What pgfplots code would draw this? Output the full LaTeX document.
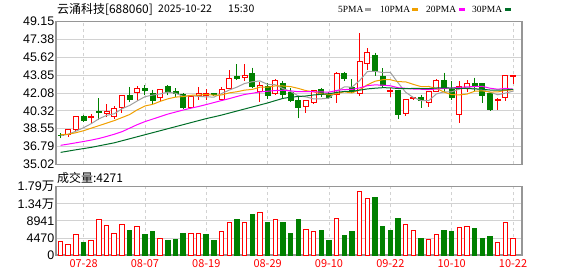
\documentclass[border=0pt]{standalone}
\usepackage{pgfplots}
\pgfplotsset{compat=1.18}
\usepackage{pgfplotstable}
\usepgfplotslibrary{statistics}
\usepackage{fontspec}
\setmainfont{Liberation Sans}
\newfontfamily\cjk{Noto Sans CJK SC}
\newfontfamily\serifl{Liberation Serif}
\definecolor{kred}{RGB}{255,0,0}
\definecolor{kgreen}{RGB}{0,128,0}
\definecolor{ma5c}{RGB}{160,160,160}
\definecolor{ma10c}{RGB}{240,160,0}
\definecolor{ma20c}{RGB}{255,0,255}
\definecolor{ma30c}{RGB}{0,110,40}
\definecolor{gridc}{RGB}{210,210,210}
\definecolor{framec}{RGB}{150,150,150}

\pgfplotstableread{
i ma5 ma10 ma20 ma30
1 37.85 37.95 36.90 36.20
2 38.00 38.00 37.02 36.33
3 38.30 38.15 37.15 36.46
4 38.65 38.35 37.28 36.58
5 39.05 38.60 37.42 36.70
6 39.53 38.85 37.58 36.85
7 39.87 39.10 37.78 37.00
8 40.03 39.35 38.00 37.15
9 40.52 39.65 38.25 37.35
10 40.85 39.95 38.60 37.55
11 41.30 40.42 38.95 37.75
12 41.72 40.80 39.25 37.95
13 41.88 40.96 39.50 38.15
14 42.00 41.26 39.75 38.35
15 42.17 41.51 40.00 38.55
16 42.06 41.68 40.20 38.75
17 41.74 41.73 40.40 38.95
18 41.83 41.86 40.58 39.15
19 41.75 41.88 40.75 39.35
20 41.70 41.94 40.94 39.55
21 41.68 41.87 41.14 39.72
22 42.03 41.89 41.34 39.90
23 42.38 42.10 41.53 40.10
24 42.67 42.21 41.74 40.30
25 43.03 42.37 41.94 40.50
26 43.20 42.44 42.06 40.70
27 43.28 42.66 42.19 40.90
28 42.94 42.66 42.26 41.10
29 42.90 42.79 42.33 41.33
30 42.52 42.78 42.36 41.55
31 42.24 42.72 42.30 41.67
32 41.79 42.54 42.21 41.74
33 41.70 42.32 42.21 41.79
34 41.50 42.20 42.21 41.89
35 41.51 42.01 42.19 41.96
36 41.57 41.91 42.17 42.01
37 42.25 42.02 42.34 42.14
38 42.69 42.20 42.43 42.24
39 42.67 42.09 42.44 42.25
40 43.32 42.41 42.59 42.37
41 44.21 42.89 42.81 42.49
42 44.24 43.25 42.89 42.56
43 44.11 43.40 42.86 42.61
44 44.13 43.40 42.80 42.60
45 43.10 43.21 42.61 42.53
46 42.16 43.19 42.55 42.51
47 41.64 42.94 42.48 42.54
48 41.34 42.72 42.46 42.53
49 41.32 42.73 42.41 42.53
50 41.99 42.54 42.48 42.58
51 42.20 42.18 42.54 42.60
52 42.20 41.92 42.58 42.57
53 42.47 41.90 42.65 42.54
54 42.63 41.98 42.69 42.53
55 42.53 42.26 42.73 42.49
56 42.40 42.30 42.74 42.46
57 42.16 42.18 42.56 42.38
58 41.91 42.19 42.46 42.37
59 42.07 42.35 42.54 42.39
60 42.27 42.40 42.47 42.45
}\matable

\pgfplotstableread{
i vol
1 3504
2 2716
3 5344
5 3767
6 9286
7 7709
8 5606
9 7972
11 7446
14 4292
18 5606
19 5606
22 6132
23 8497
25 8497
27 11125
29 9286
33 6658
34 6132
37 9548
40 16644
41 14804
46 7972
47 6395
49 4030
50 5344
53 7183
54 7446
58 3241
59 8497
60 4271
}\volred

\pgfplotstableread{
i vol
4 3329
10 6482
12 5431
13 6220
15 3854
16 4117
17 5694
20 5431
21 3854
24 9373
26 10687
28 8585
30 8585
31 5694
32 9373
35 6482
36 3854
38 5168
39 6220
42 15155
43 7534
44 6482
45 9636
48 4380
51 6482
52 6220
55 7008
56 4380
57 4906
}\volgreen

% candle: position, open, high, low, close
\newcommand{\R}[5]{\addplot[draw=kred, fill=white, line width=1bp, boxplot prepared={draw direction=y, draw position=#1, lower whisker=#4, lower quartile=#2, median=#2, upper quartile=#5, upper whisker=#3}] coordinates {};}
\newcommand{\G}[5]{\addplot[draw=kgreen, fill=kgreen, line width=1bp, boxplot prepared={draw direction=y, draw position=#1, lower whisker=#4, lower quartile=#5, median=#5, upper quartile=#2, upper whisker=#3}] coordinates {};}

\pgfplotsset{
  kstyle/.style={
    scale only axis, width=466bp,
    xmin=0.4, xmax=61.17,
    axis line style={framec, line width=1.2bp},
    major tick length=0pt,
    xmajorgrids, ymajorgrids,
    y grid style={gridc, solid, line width=0.8bp},
    x grid style={gridc, dash pattern=on 3bp off 3bp, line width=0.8bp},
    xtick={4,12,20,28,36,44,52,60},
    yticklabel style={font=\fontsize{12.5}{14}\selectfont, inner sep=1.5bp},
    scaled y ticks=false,
    boxplot/draw direction=y,
    boxplot/box extend=0.64,
    boxplot/whisker extend=0,
  }
}

\begin{document}
\begin{tikzpicture}
\useasboundingbox (0,0) rectangle (578bp,-276bp);

\node[anchor=west, inner sep=0pt] at (57bp,-9bp) {\cjk\fontsize{12}{14}\selectfont 云涌科技[688060]};
\node[anchor=west, inner sep=0pt] at (158bp,-9bp) {\cjk\fontsize{10.5}{14}\selectfont 2025-10-22};
\node[anchor=west, inner sep=0pt] at (228bp,-9bp) {\cjk\fontsize{10.5}{14}\selectfont 15:30};

% legend
\node[anchor=west, inner sep=0pt] at (338bp,-9bp) {\serifl\fontsize{9.5}{11}\selectfont 5PMA};
\draw[ma5c, line width=3bp] (365bp,-9bp) -- (371bp,-9bp);
\node[anchor=west, inner sep=0pt] at (380bp,-9bp) {\serifl\fontsize{9.5}{11}\selectfont 10PMA};
\draw[ma10c, line width=3bp] (412bp,-9bp) -- (418bp,-9bp);
\node[anchor=west, inner sep=0pt] at (426bp,-9bp) {\serifl\fontsize{9.5}{11}\selectfont 20PMA};
\draw[ma20c, line width=3bp] (459bp,-9bp) -- (465bp,-9bp);
\node[anchor=west, inner sep=0pt] at (472bp,-9bp) {\serifl\fontsize{9.5}{11}\selectfont 30PMA};
\draw[ma30c, line width=3bp] (505bp,-9bp) -- (511bp,-9bp);

\begin{axis}[kstyle,
  at={(56bp,-21.7bp)}, anchor=north west, height=142.6bp,
  ymin=35.02, ymax=49.15,
  ytick={35.02,36.79,38.55,40.32,42.08,43.85,45.62,47.38,49.15},
  yticklabels={35.02,36.79,38.55,40.32,42.08,43.85,45.62,47.38,49.15},
  xticklabels={},
]
\G{1}{37.92}{38.10}{37.60}{37.86}
\R{2}{38.01}{38.52}{37.68}{38.49}
\R{3}{38.49}{39.75}{38.30}{39.73}
\G{4}{39.79}{39.95}{39.24}{39.37}
\R{5}{39.70}{39.98}{39.14}{39.80}
\G{6}{40.26}{41.58}{39.40}{40.20}
\R{7}{40.02}{41.03}{39.69}{40.21}
\R{8}{39.79}{40.84}{39.55}{40.51}
\R{9}{40.60}{41.85}{40.10}{41.82}
\G{10}{41.88}{42.68}{41.16}{41.43}
\R{11}{42.12}{42.73}{41.33}{42.54}
\G{12}{42.58}{42.87}{41.85}{42.30}
\G{13}{42.08}{42.41}{40.90}{41.33}
\R{14}{41.62}{42.50}{41.30}{42.41}
\G{15}{42.74}{42.87}{41.85}{42.28}
\G{16}{42.22}{42.55}{41.65}{42.00}
\G{17}{41.95}{42.08}{40.50}{40.66}
\R{18}{40.64}{41.92}{40.55}{41.78}
\R{19}{41.85}{42.64}{41.43}{42.05}
\R{20}{41.85}{42.47}{41.40}{42.00}
\G{21}{42.05}{42.10}{41.75}{41.90}
\R{22}{41.49}{42.70}{41.40}{42.44}
\R{23}{42.54}{44.37}{42.45}{43.52}
\G{24}{43.71}{44.92}{43.39}{43.50}
\R{25}{43.60}{44.92}{43.29}{43.80}
\G{26}{44.04}{44.60}{42.54}{42.73}
\R{27}{42.22}{43.13}{41.24}{42.87}
\G{28}{42.75}{43.10}{41.50}{41.80}
\R{29}{42.00}{43.50}{41.85}{43.29}
\G{30}{43.05}{43.30}{41.60}{41.90}
\G{31}{42.10}{42.58}{41.20}{41.35}
\G{32}{41.33}{41.82}{39.57}{40.62}
\R{33}{40.78}{41.40}{40.12}{41.33}
\R{34}{41.10}{42.40}{41.00}{42.31}
\G{35}{42.48}{42.60}{41.70}{41.92}
\G{36}{41.92}{42.15}{41.50}{41.66}
\R{37}{41.92}{44.14}{41.10}{44.05}
\G{38}{44.05}{44.20}{43.23}{43.52}
\G{39}{42.60}{43.46}{42.08}{42.20}
\R{40}{42.02}{48.07}{41.80}{45.16}
\R{41}{44.96}{46.50}{44.40}{46.13}
\G{42}{45.77}{46.08}{43.80}{44.20}
\G{43}{43.68}{44.56}{42.60}{42.86}
\R{44}{42.22}{42.60}{41.70}{42.30}
\G{45}{42.36}{42.40}{39.46}{39.99}
\R{46}{40.10}{41.50}{39.76}{41.45}
\R{47}{41.50}{41.72}{41.35}{41.60}
\G{48}{41.66}{41.90}{40.60}{41.35}
\R{49}{41.10}{42.25}{40.70}{42.21}
\R{50}{42.25}{43.45}{42.15}{43.35}
\G{51}{43.32}{44.10}{42.20}{42.50}
\G{52}{42.46}{43.25}{41.40}{41.60}
\R{53}{39.95}{43.25}{39.14}{42.68}
\R{54}{42.65}{43.34}{42.20}{43.02}
\G{55}{43.02}{43.62}{42.30}{42.83}
\G{56}{43.02}{43.05}{41.13}{41.88}
\G{57}{42.04}{42.05}{40.40}{40.41}
\R{58}{41.30}{41.55}{40.41}{41.42}
\R{59}{41.60}{43.90}{41.25}{43.81}
\R{60}{43.76}{43.90}{43.00}{43.84}
\addplot[ma5c, line width=1bp] table[x=i, y=ma5]{\matable};
\addplot[ma10c, line width=1bp] table[x=i, y=ma10]{\matable};
\addplot[ma20c, line width=1bp] table[x=i, y=ma20]{\matable};
\addplot[ma30c, line width=1bp] table[x=i, y=ma30]{\matable};
\end{axis}

\node[anchor=west, inner sep=0pt] at (57bp,-177.7bp) {\cjk\fontsize{12}{14}\selectfont 成交量:4271};

\begin{axis}[kstyle,
  at={(56bp,-186.7bp)}, anchor=north west, height=68.3bp,
  ymin=0, ymax=17882,
  ytick={0,4470,8941,13411,17882},
  yticklabels={0,4470,8941,{1.34{\cjk 万}},{1.79{\cjk 万}}},
  xticklabels={07-28,08-07,08-19,08-29,09-10,09-22,10-10,10-22},
  xticklabel style={font=\cjk\fontsize{11}{13}\selectfont, text=kred, inner sep=2bp, yshift=-2bp},
]
\addplot[ybar, bar width=0.6, bar shift=0pt, draw=kred, fill=white, line width=1bp] table[x=i, y=vol]{\volred};
\addplot[ybar, bar width=0.6, bar shift=0pt, draw=kgreen, fill=kgreen, line width=1bp] table[x=i, y=vol]{\volgreen};
\end{axis}
\end{tikzpicture}
\end{document}
